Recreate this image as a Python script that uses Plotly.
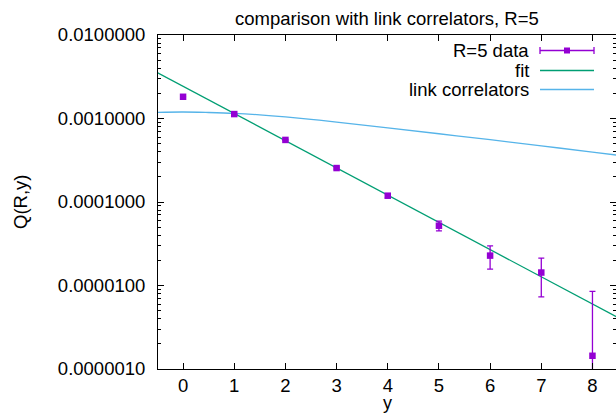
import plotly.graph_objects as go

# ---- data ----
y_sep = [0, 1, 2, 3, 4, 5, 6, 7, 8]
q_data = [1.82e-3, 1.13e-3, 5.54e-4, 2.55e-4, 1.19e-4, 5.2e-5, 2.28e-5, 1.43e-5, 1.44e-6]
q_err = [7e-6, 7e-6, 7e-6, 7e-6, 7e-6, 7e-6, 7.1e-6, 7e-6, 7.06e-6]

fit_x = [-0.5, 8.5]
fit_q = [3.54e-3, 4.12e-6]

link_x = [-0.5, 0, 0.5, 1, 1.5, 2, 2.5, 3, 4, 5, 6, 7, 8, 8.5]
link_q = [1.186e-3, 1.197e-3, 1.18e-3, 1.153e-3, 1.107e-3, 1.047e-3, 9.77e-4,
          9.05e-4, 7.71e-4, 6.57e-4, 5.57e-4, 4.70e-4, 3.96e-4, 3.63e-4]

title_text = "comparison with link correlators, R=5"
legend_labels = ["R=5 data", "fit", "link correlators"]

PURPLE = "#9400D3"
GREEN = "#009E73"
BLUE = "#56B4E9"
FONT = "Liberation Sans, Arial, sans-serif"
FS = 18.5

W, H = 616, 414
L, R, T, B = 158, 0, 35, 45
PW, PH = W - L - R, H - T - B


def px(xp):
    return (xp - L) / PW


def py(yp):
    return (H - B - yp) / PH


fig = go.Figure()
fig.add_trace(go.Scatter(x=fit_x, y=fit_q, mode="lines",
                         line=dict(color=GREEN, width=1.3), showlegend=False))
fig.add_trace(go.Scatter(x=link_x, y=link_q, mode="lines", line_shape="spline",
                         line=dict(color=BLUE, width=1.3), showlegend=False))
fig.add_trace(go.Scatter(x=y_sep, y=q_data, mode="markers",
                         marker=dict(symbol="square", size=6.5, color=PURPLE),
                         error_y=dict(type="data", array=q_err, visible=True,
                                      color=PURPLE, thickness=1.3, width=3),
                         showlegend=False))

axis_common = dict(showline=True, linecolor="black", linewidth=1, mirror="allticks",
                   ticks="inside", ticklen=6, tickcolor="black", showgrid=False,
                   zeroline=False, tickfont=dict(family=FONT, size=FS, color="black"))

fig.update_xaxes(range=[-0.49, 8.46], tickmode="linear", tick0=0, dtick=1,
                 ticklabelstandoff=0, **axis_common)
fig.update_yaxes(type="log", range=[-6, -2], dtick=1, tickformat=".7f",
                 ticklabelstandoff=8,
                 minor=dict(ticks="inside", ticklen=3, dtick="D1", tickcolor="black",
                            showgrid=False),
                 **axis_common)

annotations = [
    dict(text=title_text, xref="paper", yref="paper", x=0.5, y=py(18),
         xanchor="center", yanchor="middle", showarrow=False,
         font=dict(family=FONT, size=FS, color="black")),
    dict(text="Q(R,y)", xref="paper", yref="paper", x=px(20), y=py(202),
         xanchor="center", yanchor="middle", textangle=-90, showarrow=False,
         font=dict(family=FONT, size=FS, color="black")),
    dict(text="y", xref="paper", yref="paper", x=px(387), y=py(403),
         xanchor="center", yanchor="middle", showarrow=False,
         font=dict(family=FONT, size=18, color="black")),
]

rows_y = [50.5, 70.5, 89.5]
for lab, yy in zip(legend_labels, rows_y):
    annotations.append(dict(text=lab, xref="paper", yref="paper", x=px(531), y=py(yy),
                            xanchor="right", yanchor="middle", showarrow=False,
                            font=dict(family=FONT, size=FS, color="black")))

shapes = []
# legend sample: error bar
shapes.append(dict(type="line", xref="paper", yref="paper", x0=px(540), x1=px(594),
                   y0=py(rows_y[0]), y1=py(rows_y[0]), line=dict(color=PURPLE, width=1.3)))
for xc in (540, 594):
    shapes.append(dict(type="line", xref="paper", yref="paper", x0=px(xc), x1=px(xc),
                       y0=py(rows_y[0] - 3.5), y1=py(rows_y[0] + 3.5),
                       line=dict(color=PURPLE, width=1.3)))
shapes.append(dict(type="rect", xref="paper", yref="paper", x0=px(564), x1=px(570),
                   y0=py(rows_y[0] - 3), y1=py(rows_y[0] + 3),
                   fillcolor=PURPLE, line=dict(width=0)))
for col, yy in ((GREEN, rows_y[1]), (BLUE, rows_y[2])):
    shapes.append(dict(type="line", xref="paper", yref="paper", x0=px(540), x1=px(594),
                       y0=py(yy), y1=py(yy), line=dict(color=col, width=1.3)))

fig.update_layout(width=W, height=H, autosize=False,
                  margin=dict(l=L, r=R, t=T, b=B, pad=0),
                  paper_bgcolor="white", plot_bgcolor="white",
                  annotations=annotations, shapes=shapes, showlegend=False,
                  font=dict(family=FONT, size=FS, color="black"))

fig.write_html("out.html")
